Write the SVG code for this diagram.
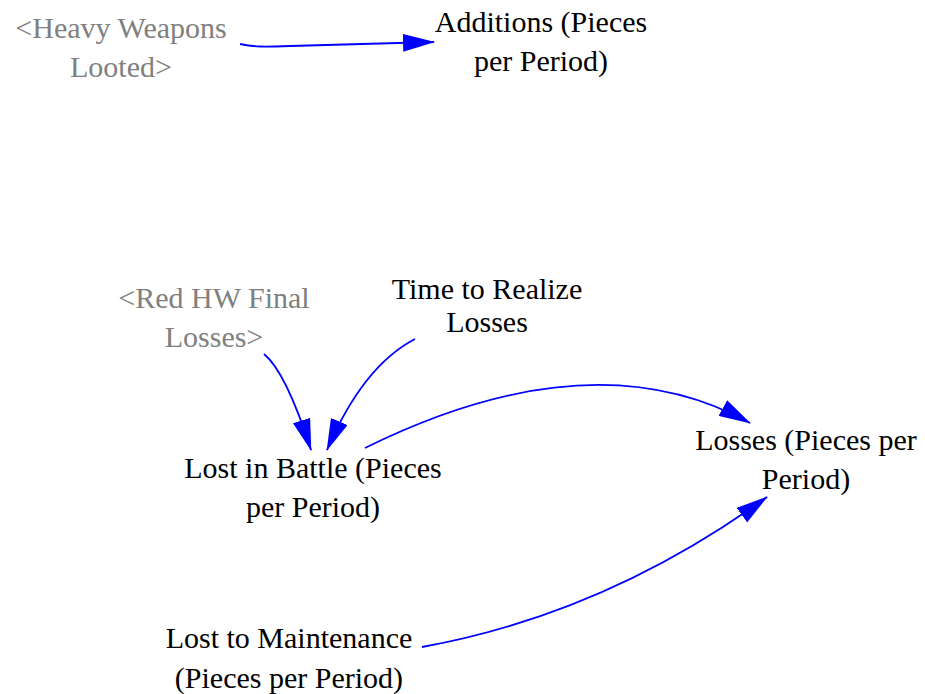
<svg xmlns="http://www.w3.org/2000/svg" width="925" height="694" viewBox="0 0 925 694">
  <style>
    .lbl { font-family: "Liberation Serif", "Times New Roman", serif; font-size: 30px; text-anchor: middle; }
    .var { fill: #000000; }
    .shadow { fill: #808080; }
    .link { fill: none; stroke: #0000ff; stroke-width: 1.8; marker-end: url(#head); }
  </style>
  <defs>
    <marker id="head" markerUnits="userSpaceOnUse" markerWidth="32" markerHeight="18" refX="31" refY="9" orient="auto">
      <path d="M0,0 L32,9 L0,18 Z" fill="#0000ff"/>
    </marker>
  </defs>
  <rect width="925" height="694" fill="#ffffff"/>

  <!-- causal links -->
  <g id="links">
    <path class="link" d="M240,44 C255,47 262,47 290,46 L434,42"/>
    <path class="link" d="M264,354 Q286,372 311,450"/>
    <path class="link" d="M415,339 Q363,366 327,450"/>
    <path class="link" d="M365,448 Q592,336 750,423"/>
    <path class="link" d="M422,647 Q605,614 767,497"/>
  </g>

  <!-- variables (grey = shadow variables) -->
  <g id="heavy-weapons-looted" class="lbl shadow">
    <text x="121" y="38">&lt;Heavy Weapons</text>
    <text x="121" y="77">Looted&gt;</text>
  </g>
  <g id="additions" class="lbl var">
    <text x="541" y="32">Additions (Pieces</text>
    <text x="541" y="71">per Period)</text>
  </g>
  <g id="red-hw-final-losses" class="lbl shadow">
    <text x="214" y="308">&lt;Red HW Final</text>
    <text x="214" y="347">Losses&gt;</text>
  </g>
  <g id="time-to-realize-losses" class="lbl var">
    <text x="487" y="299">Time to Realize</text>
    <text x="487" y="332">Losses</text>
  </g>
  <g id="lost-in-battle" class="lbl var">
    <text x="313" y="478">Lost in Battle (Pieces</text>
    <text x="313" y="517">per Period)</text>
  </g>
  <g id="losses" class="lbl var">
    <text x="806" y="450">Losses (Pieces per</text>
    <text x="806" y="489">Period)</text>
  </g>
  <g id="lost-to-maintenance" class="lbl var">
    <text x="289" y="648">Lost to Maintenance</text>
    <text x="289" y="688">(Pieces per Period)</text>
  </g>
</svg>
